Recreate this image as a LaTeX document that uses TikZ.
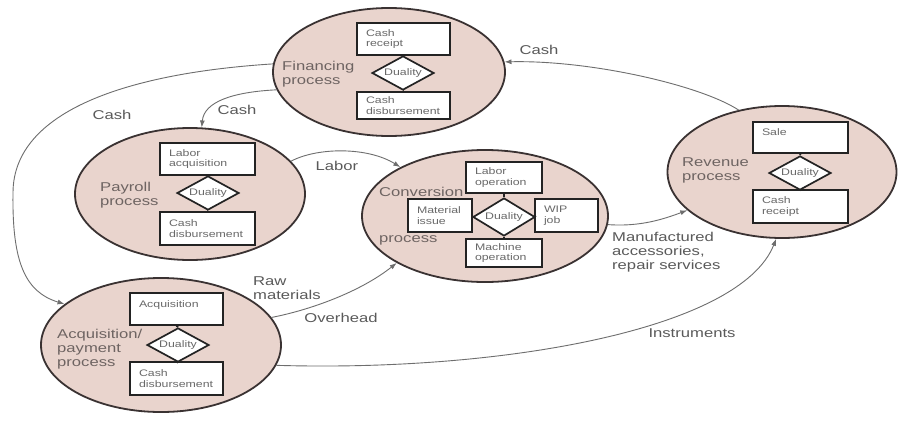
\documentclass[tikz,border=0pt]{standalone}
\usepackage{fontspec}
\setmainfont{Liberation Sans}[FakeStretch=1.3]
\usetikzlibrary{shapes.geometric,arrows.meta}

\definecolor{procfill}{RGB}{233,212,205}
\definecolor{procline}{RGB}{58,50,50}
\definecolor{boxline}{RGB}{35,35,35}
\definecolor{boxtext}{RGB}{105,105,105}
\definecolor{proctext}{RGB}{110,100,98}
\definecolor{lbltext}{RGB}{90,90,90}
\definecolor{flowline}{RGB}{110,110,110}

\newcommand\lblfont{\fontsize{12.8}{14}\selectfont}
\newcommand\bxfont{\fontsize{9.5}{10.5}\selectfont}

\begin{document}
\begin{tikzpicture}[x=1pt,y=1pt,
  proc/.style={ellipse, draw=procline, line width=1.8pt, fill=procfill, inner sep=0pt},
  bx/.style={rectangle, draw=boxline, line width=1.7pt, fill=white, inner sep=0pt,
             align=left, font=\bxfont, text=boxtext},
  dual/.style={diamond, draw=boxline, line width=1.7pt, fill=white, inner sep=0pt,
               aspect=1.8, minimum width=62pt, minimum height=34pt,
               font=\bxfont, text=boxtext},
  stub/.style={draw=boxline, line width=1.7pt},
  plabel/.style={font=\lblfont, text=proctext, align=left, inner sep=0pt, anchor=west},
  flabel/.style={font=\lblfont, text=lbltext, align=left, inner sep=0pt},
  flow/.style={draw=flowline, line width=0.9pt, -{Latex[length=7pt,width=5pt]}}
]
\fill[white] (0,0) rectangle (900,-421);
\useasboundingbox (0,0) rectangle (900,-421);

% ---- process ellipses ----
\node[proc, minimum width=232pt, minimum height=128pt] (fin)  at (389,-72)  {};
\node[proc, minimum width=230pt, minimum height=132pt] (pay)  at (190,-194) {};
\node[proc, minimum width=246pt, minimum height=132pt] (conv) at (485,-216) {};
\node[proc, minimum width=229pt, minimum height=132pt] (rev)  at (782,-172) {};
\node[proc, minimum width=240pt, minimum height=134pt] (acq)  at (161,-345) {};

% ---- financing process ----
\node[bx, minimum width=93pt, minimum height=32pt, text width=75pt] (fcr) at (403.5,-39) {Cash\\receipt};
\node[dual] (fdu) at (403,-73) {Duality};
\node[bx, minimum width=93pt, minimum height=27pt, text width=75pt] (fcd) at (403.5,-105.5) {Cash\\disbursement};
\draw[stub] (fdu.north) -- (fcr.south);
\draw[stub] (fdu.south) -- (fcd.north);
\node[plabel] (finlbl) at (282,-74) {Financing\\process};

% ---- payroll process ----
\node[bx, minimum width=95pt, minimum height=32pt, text width=77pt] (plq) at (207.5,-159) {Labor\\acquisition};
\node[dual] (pdu) at (208,-193) {Duality};
\node[bx, minimum width=95pt, minimum height=33pt, text width=77pt] (pcd) at (207.5,-228.5) {Cash\\disbursement};
\draw[stub] (pdu.north) -- (plq.south);
\draw[stub] (pdu.south) -- (pcd.north);
\node[plabel] (paylbl) at (100,-195) {Payroll\\process};

% ---- conversion process ----
\node[bx, minimum width=76pt, minimum height=31pt, text width=58pt] (clo) at (504,-177.5) {Labor\\operation};
\node[bx, minimum width=64pt, minimum height=33pt, text width=46pt] (cmi) at (440,-215.5) {Material\\issue};
\node[dual, minimum height=38pt] (cdu) at (504,-217) {Duality};
\node[bx, minimum width=63pt, minimum height=33pt, text width=45pt] (cwj) at (566.5,-215.5) {WIP\\job};
\node[bx, minimum width=76pt, minimum height=28pt, text width=58pt] (cmo) at (504,-253) {Machine\\operation};
\draw[stub] (cdu.north) -- (clo.south);
\draw[stub] (cdu.south) -- (cmo.north);
\draw[stub] (cdu.west) -- (cmi.east);
\draw[stub] (cdu.east) -- (cwj.west);
\node[plabel] (convlbl) at (379,-192) {Conversion};
\node[plabel] (convlblb) at (379,-240) {process};

% ---- revenue process ----
\node[bx, minimum width=95pt, minimum height=31pt, text width=77pt] (rsa) at (800.5,-137.5) {Sale\\\mbox{}};
\node[dual] (rdu) at (800,-173) {Duality};
\node[bx, minimum width=95pt, minimum height=33pt, text width=77pt] (rcr) at (800.5,-206.5) {Cash\\receipt};
\draw[stub] (rdu.north) -- (rsa.south);
\draw[stub] (rdu.south) -- (rcr.north);
\node[plabel] (revlbl) at (682,-170) {Revenue\\process};

% ---- acquisition/payment process ----
\node[bx, minimum width=93pt, minimum height=32pt, text width=75pt] (aaq) at (176.5,-309) {Acquisition\\\mbox{}};
\node[dual] (adu) at (178,-345) {Duality};
\node[bx, minimum width=93pt, minimum height=33pt, text width=75pt] (acd) at (176.5,-378.5) {Cash\\disbursement};
\draw[stub] (adu.north) -- (aaq.south);
\draw[stub] (adu.south) -- (acd.north);
\node[plabel] (acqlbl) at (57,-349) {Acquisition/\\payment\\process};

% ---- resource flows ----
\draw[flow] (fin.176) .. controls (130,-73) and (13,-110) .. (13,-193)
                      .. controls (12,-262) and (25,-292) .. (acq.157);
\node[flabel] (lcash1) at (112,-115) {Cash};

\draw[flow] (fin.189) .. controls (232,-92) and (204,-102) .. (pay.80);
\node[flabel] (lcash2) at (237,-110) {Cash};

\draw[flow] (pay.18) .. controls (318,-147) and (368,-147) .. (conv.150);
\node[flabel] (llabor) at (337,-166) {Labor};

\draw[flow] (rev.125) .. controls (700,-85) and (590,-60) .. (fin.5);
\node[flabel] (lcash3) at (539,-50) {Cash};

\draw[flow] (acq.14) .. controls (310,-310) and (360,-292) .. (conv.208);
\node[flabel, anchor=west] (lraw) at (253,-288) {Raw\\materials};
\node[flabel] (lover) at (341,-318) {Overhead};

\draw[flow] (conv.-4) .. controls (640,-227) and (664,-219) .. (rev.202);
\node[flabel, anchor=west] (lmanu) at (612,-252) {Manufactured\\accessories,\\repair services};

\draw[flow] (acq.-10) .. controls (500,-372) and (740,-330) .. (rev.265);
\node[flabel] (linstr) at (692,-333) {Instruments};
\end{tikzpicture}
\end{document}
